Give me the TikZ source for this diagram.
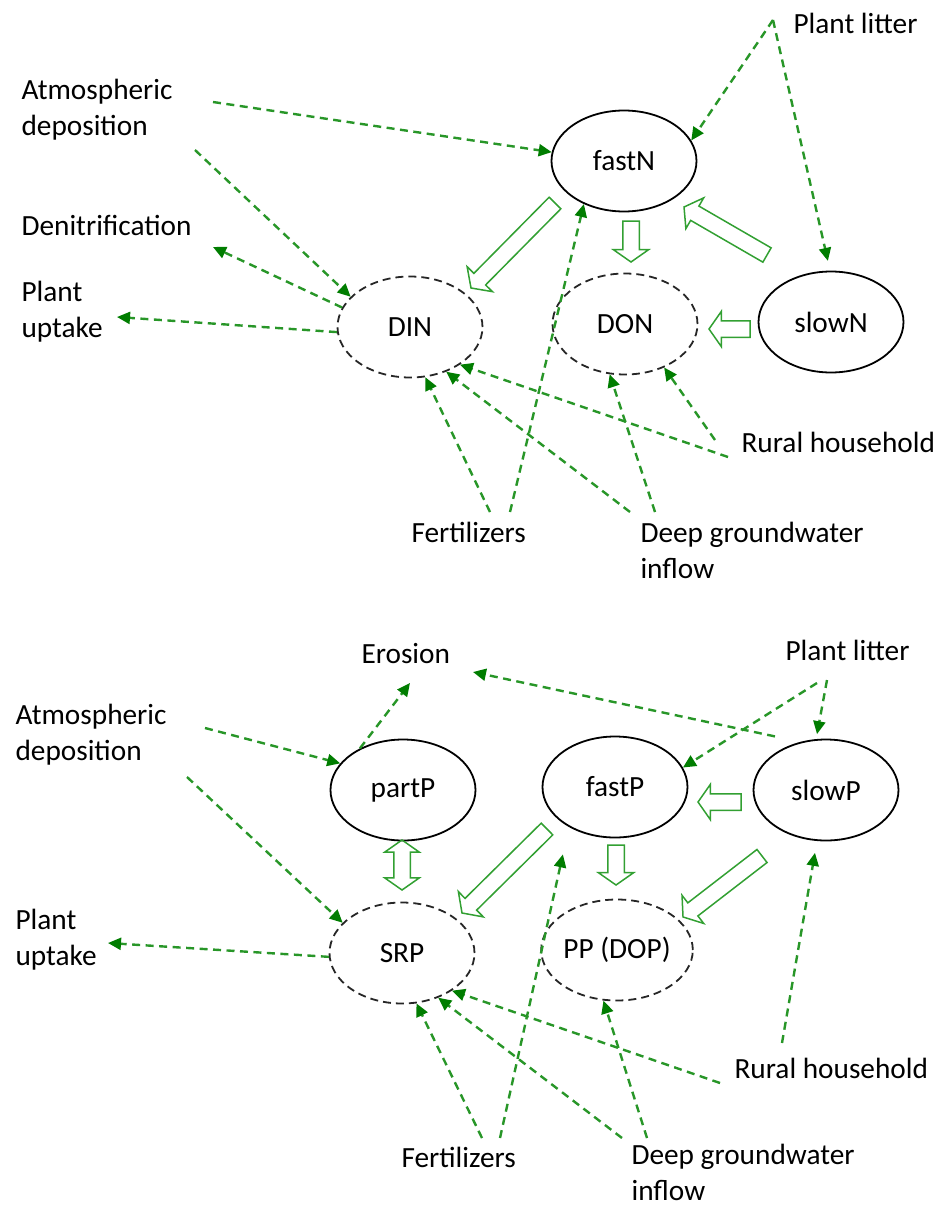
\documentclass[tikz,border=0pt]{standalone}
\usepackage{fontspec}
\setmainfont{Carlito}
\usetikzlibrary{shapes.geometric,shapes.arrows,arrows.meta,calc}
\definecolor{fluxgreen}{RGB}{40,150,40}
\definecolor{headgreen}{RGB}{0,125,0}
\definecolor{fatgreen}{RGB}{50,160,50}
\tikzset{
  pool/.style={draw, ellipse, line width=1.8pt, minimum width=145pt, minimum height=101pt, inner sep=0pt},
  pooldash/.style={pool, draw=black!85, dash pattern=on 8pt off 5pt},
  flux/.style={draw=fluxgreen, line width=2.4pt, dash pattern=on 8pt off 5.5pt,
    -{Triangle[length=13pt,width=12pt,color=headgreen]}},
  fat/.style={draw=fatgreen, line width=1.5pt, single arrow, single arrow head extend=9.5pt,
    single arrow tip angle=110, inner sep=0pt, inner ysep=7.5pt, outer sep=0pt},
  dfat/.style={draw=fatgreen, line width=1.5pt, double arrow, double arrow head extend=9pt,
    double arrow tip angle=110, inner sep=0pt, inner ysep=7.5pt, outer sep=0pt},
  txt/.style={anchor=base west, align=left}
}
% hollow block arrow from a tail point to a tip point
\newcommand{\fatarrow}[3]{%
  \path let \p1=(#2), \p2=(#3), \n1={atan2(\y2-\y1,\x2-\x1)}, \n2={veclen(\x2-\x1,\y2-\y1)} in
    node[fat, anchor=tail, rotate=\n1, minimum height=\n2] (#1) at (#2) {};}

\begin{document}
\begin{tikzpicture}[x=1pt, y=-1pt, font=\fontsize{29.3}{36}\selectfont]
\useasboundingbox (0,0) rectangle (935,1205);

% nitrogen
\node[pool] (fastN) at (624,161) {fastN};
\node[pooldash] (DIN) at (410,327) {DIN};
\node[pooldash] (DON) at (625,324) {DON};
\node[pool] (slowN) at (831,322) {slowN};

\node[txt] (litN) at (790,33) {Plant litter};
\node[txt] (atmN) at (18,135) {Atmospheric\\deposition};
\node[txt] (denN) at (18,235) {Denitrification};
\node[txt] (uptN) at (18,337) {Plant\\uptake};
\node[txt] (rurN) at (738,452) {Rural household};
\node[txt] (fertN) at (408,542) {Fertilizers};
\node[txt] (deepN) at (637,578) {Deep groundwater\\inflow};

\coordinate (atmN1) at (213,102);
\coordinate (atmN2) at (195,150);
\coordinate (denN1) at (213,247);
\coordinate (uptN1) at (117,317);
\coordinate (litN1) at (773,20);
\coordinate (fertN1) at (490,512);
\coordinate (fertN2) at (510,512);
\coordinate (deepN1) at (630,512);
\coordinate (deepN2) at (655,512);
\coordinate (rurN1) at (728,457);
\coordinate (rurN2) at (715,440);

\path[flux] (atmN1) -- (fastN.173);
\path[flux] (atmN2) -- (DIN.153);
\path[flux] (DIN.164) -- (denN1);
\path[flux] (DIN.184) -- (uptN1);
\path[flux] (litN1) -- (fastN.17);
\path[flux, shorten >=10pt] (litN1) -- (slowN.91);
\path[flux] (fertN1) -- (DIN.-73);
\path[flux] (fertN2) -- (fastN.227);
\path[flux] (deepN1) -- (DIN.-51);
\path[flux] (deepN2) -- (DON.-107);
\path[flux] (rurN1) -- (DIN.-37);
\path[flux] (rurN2) -- (DON.-48);

\coordinate (f1a) at (555,203); \coordinate (f1b) at (471,288);
\coordinate (f2a) at (631,221); \coordinate (f2b) at (631,262);
\coordinate (f3a) at (767,255); \coordinate (f3b) at (684,207);
\coordinate (f4a) at (750,329); \coordinate (f4b) at (709,329);
\fatarrow{fastDIN}{f1a}{f1b}
\fatarrow{fastDON}{f2a}{f2b}
\fatarrow{slowfastN}{f3a}{f3b}
\fatarrow{slowDON}{f4a}{f4b}

% phosphorus
\node[pool] (partP) at (403,790) {partP};
\node[pool] (fastP) at (615,787) {fastP};
\node[pool] (slowP) at (826,790) {slowP};
\node[pooldash] (SRP) at (402,953) {SRP};
\node[pooldash] (PP) at (617,950) {PP (DOP)};

\node[txt] (eroP) at (358,663) {Erosion};
\node[txt] (litP) at (782,660) {Plant litter};
\node[txt] (atmP) at (12,760) {Atmospheric\\deposition};
\node[txt] (uptP) at (12,965) {Plant\\uptake};
\node[txt] (rurP) at (731,1078) {Rural household};
\node[txt] (fertP) at (398,1167) {Fertilizers};
\node[txt] (deepP) at (628,1200) {Deep groundwater\\inflow};

\coordinate (atmP1) at (205,728);
\coordinate (atmP2) at (187,777);
\coordinate (eroP1) at (410,683);
\coordinate (eroP2) at (473,672);
\coordinate (litP1) at (817,683);
\coordinate (litP2) at (827,680);
\coordinate (uptP1) at (108,943);
\coordinate (fertP1) at (482,1138);
\coordinate (fertP2) at (500,1138);
\coordinate (deepP1) at (622,1138);
\coordinate (deepP2) at (647,1138);
\coordinate (rurP1) at (720,1083);
\coordinate (rurP2) at (782,1043);

\path[flux] (atmP1) -- (partP.157);
\path[flux] (atmP2) -- (SRP.153);
\path[flux] (partP.136) -- (eroP1);
\path[flux, shorten <=26pt] (slowP.118) -- (eroP2);
\path[flux] (litP1) -- (fastP.16);
\path[flux, shorten >=5pt] (litP2) -- (slowP.101);
\path[flux] (SRP.183) -- (uptP1);
\path[flux] (fertP1) -- (SRP.-74);
\path[flux, shorten >=28pt] (fertP2) -- (fastP.221);
\path[flux] (deepP1) -- (SRP.-51);
\path[flux] (deepP2) -- (PP.-105);
\path[flux] (rurP1) -- (SRP.-37);
\path[flux, shorten >=12pt] (rurP2) -- (slowP.-100);

\node[dfat, rotate=90, minimum height=50pt] (partSRP) at (402,865) {};
\coordinate (p1a) at (547,829); \coordinate (p1b) at (462,913);
\coordinate (p2a) at (616,845); \coordinate (p2b) at (616,885);
\coordinate (p3a) at (741,802); \coordinate (p3b) at (698,802);
\coordinate (p4a) at (762,856); \coordinate (p4b) at (683,917);
\fatarrow{fastSRP}{p1a}{p1b}
\fatarrow{fastPP}{p2a}{p2b}
\fatarrow{slowfastP}{p3a}{p3b}
\fatarrow{slowPP}{p4a}{p4b}
\end{tikzpicture}
\end{document}
